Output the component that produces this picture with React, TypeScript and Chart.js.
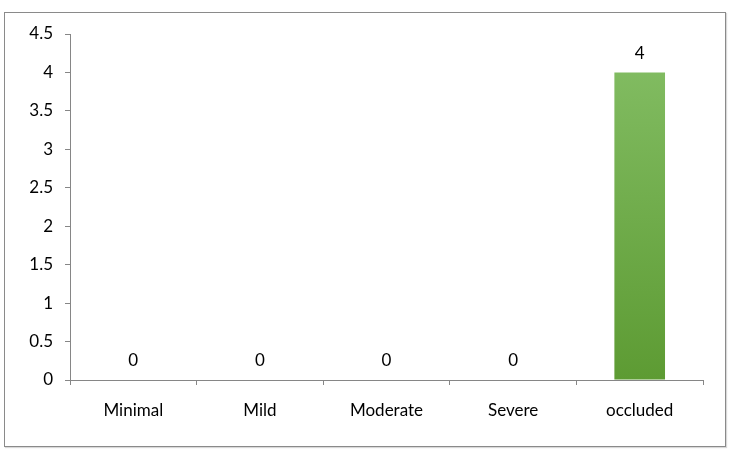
import React, { useEffect, useRef } from "react";
import { Chart, registerables } from "chart.js";

Chart.register(...registerables);

const categories = ["Minimal", "Mild", "Moderate", "Severe", "occluded"];
const counts = [0, 0, 0, 0, 4];
const yTicks = [0, 0.5, 1, 1.5, 2, 2.5, 3, 3.5, 4, 4.5];

const FONT = "Lato, 'Open Sans', sans-serif";
const AXIS_GRAY = "#868686";

// Writes each bar's value just above its top.
const valueLabels = {
  id: "valueLabels",
  afterDatasetsDraw(chart: any) {
    const ctx = chart.ctx;
    const meta = chart.getDatasetMeta(0);
    const ds = chart.data.datasets[0];
    ctx.save();
    ctx.font = `17px ${FONT}`;
    ctx.fillStyle = "#000";
    ctx.textAlign = "center";
    ctx.textBaseline = "middle";
    meta.data.forEach((bar: any, i: number) => {
      ctx.fillText(String(ds.data[i]), bar.x, bar.y - 19);
    });
    ctx.restore();
  },
};

export default function App() {
  const ref = useRef<HTMLCanvasElement>(null);

  useEffect(() => {
    document.body.style.margin = "0";
    const canvas = ref.current!;
    const chart = new Chart(canvas, {
      type: "bar",
      data: {
        labels: categories,
        datasets: [
          {
            data: counts,
            backgroundColor: (c: any) => {
              const area = c.chart.chartArea;
              if (!area) return "#6fae48";
              const g = c.chart.ctx.createLinearGradient(0, area.top, 0, area.bottom);
              g.addColorStop(0, "#85bf66");
              g.addColorStop(1, "#5d9b33");
              return g;
            },
            borderWidth: 0,
            barPercentage: 0.4,
            categoryPercentage: 1,
          },
        ],
      },
      options: {
        responsive: false,
        animation: false,
        layout: { padding: { left: 0, right: 28, top: 34, bottom: 0 } },
        plugins: {
          legend: { display: false },
          tooltip: { enabled: false },
        },
        scales: {
          x: {
            afterFit: (s: any) => {
              s.height = 72;
            },
            grid: {
              offset: true,
              drawOnChartArea: false,
              drawTicks: true,
              tickLength: 5,
              color: AXIS_GRAY,
            },
            border: { color: AXIS_GRAY, width: 1 },
            ticks: {
              color: "#000",
              font: { family: FONT, size: 17 },
              padding: 15,
            },
          },
          y: {
            min: 0,
            max: 4.5,
            afterFit: (s: any) => {
              s.width = 70;
            },
            afterBuildTicks: (s: any) => {
              s.ticks = yTicks.map((v) => ({ value: v }));
            },
            grid: {
              drawOnChartArea: false,
              drawTicks: true,
              tickLength: 5,
              color: AXIS_GRAY,
            },
            border: { color: AXIS_GRAY, width: 1 },
            ticks: {
              color: "#000",
              font: { family: FONT, size: 17 },
              padding: 12,
              callback: (v: any) => String(v),
            },
          },
        },
      },
      plugins: [valueLabels],
    });
    return () => chart.destroy();
  }, []);

  return (
    <div style={{ position: "relative", width: 731, height: 452, background: "#fff" }}>
      <canvas ref={ref} width={731} height={452} style={{ display: "block" }} />
      <div
        style={{
          position: "absolute",
          left: 4,
          top: 12,
          width: 720,
          height: 433,
          border: "1.5px solid #8a8a8a",
          boxShadow: "1px 1px 1px rgba(0,0,0,0.15)",
          pointerEvents: "none",
        }}
      />
    </div>
  );
}
